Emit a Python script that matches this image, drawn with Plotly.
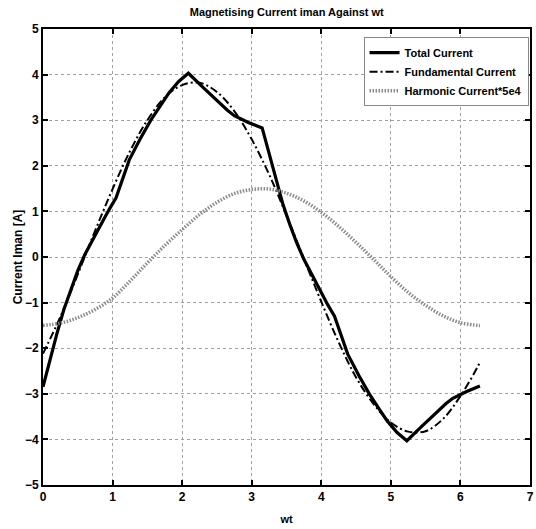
import plotly.graph_objects as go

# Total current
wt_total = [0, 0.1, 0.2, 0.3, 0.4, 0.5, 0.6, 0.7, 0.8, 0.95, 1.05, 1.24, 1.4, 1.55, 1.7, 1.81, 1.95, 2.09,
            2.3, 2.47, 2.65, 2.75, 2.95, 3.15, 3.25, 3.35, 3.45, 3.55, 3.65, 3.75, 3.85, 3.95, 4.09, 4.19,
            4.38, 4.54, 4.69, 4.84, 4.95, 5.09, 5.23, 5.44, 5.61, 5.79, 5.89, 6.09, 6.28]
i_total = [-2.85, -2.25, -1.68, -1.15, -0.7, -0.3, 0.05, 0.35, 0.62, 1.04, 1.3, 2.13, 2.6, 3.0, 3.35, 3.6, 3.85, 4.03,
           3.72, 3.47, 3.22, 3.1, 2.95, 2.83, 2.25, 1.68, 1.15, 0.7, 0.3, -0.05, -0.35, -0.62, -1.04, -1.3,
           -2.13, -2.6, -3.0, -3.35, -3.6, -3.85, -4.03, -3.72, -3.47, -3.22, -3.1, -2.95, -2.83]

# Fundamental current
wt_fund = [0, 0.25, 0.5, 0.75, 1.0, 1.25, 1.5, 1.75, 2.0, 2.25, 2.5, 2.75, 3.0, 3.25, 3.5, 3.75, 4.0,
           4.25, 4.5, 4.75, 5.0, 5.25, 5.5, 5.75, 6.0, 6.25, 6.28]
i_fund = [-2.12, -1.31, -0.38, 0.58, 1.49, 2.32, 3.0, 3.5, 3.77, 3.82, 3.62, 3.2, 2.58, 1.81, 0.91, -0.04, -0.98,
          -1.87, -2.64, -3.22, -3.63, -3.83, -3.82, -3.55, -3.05, -2.4, -2.3]

# Harmonic current * 5e4
wt_harm = [0, 0.25, 0.5, 0.75, 1.0, 1.25, 1.5, 1.75, 2.0, 2.25, 2.5, 2.75, 3.0, 3.25, 3.5, 3.75, 4.0,
           4.25, 4.5, 4.75, 5.0, 5.25, 5.5, 5.75, 6.0, 6.25, 6.28]
i_harm = [-1.5, -1.45, -1.33, -1.15, -0.9, -0.53, -0.13, 0.25, 0.6, 0.93, 1.2, 1.39, 1.48, 1.49, 1.4, 1.23, 0.98,
          0.67, 0.32, -0.05, -0.43, -0.78, -1.06, -1.29, -1.44, -1.5, -1.5]

x_ticks = [0, 1, 2, 3, 4, 5, 6, 7]
y_ticks = [-5, -4, -3, -2, -1, 0, 1, 2, 3, 4, 5]

FONT = "Liberation Sans"

fig = go.Figure()
fig.add_trace(go.Scatter(x=wt_total, y=i_total, mode="lines", name="Total Current",
                         line=dict(color="black", width=3.2)))
fig.add_trace(go.Scatter(x=wt_fund, y=i_fund, mode="lines", name="Fundamental Current",
                         line=dict(color="black", width=2, dash="8px,3px,2px,3px"), line_shape="spline"))
fig.add_trace(go.Scatter(x=wt_harm, y=i_harm, mode="lines", name="Harmonic Current*5e4",
                         line=dict(color="#8a8a8a", width=3.5, dash="1.5px,1.5px"), line_shape="spline"))

axis_common = dict(
    showline=True, linecolor="black", linewidth=2, mirror="ticks",
    ticks="inside", ticklen=5, tickwidth=1.5, tickcolor="black",
    showgrid=True, gridcolor="#a0a0a0", gridwidth=1, griddash="dot",
    zeroline=False,
    tickfont=dict(family=FONT, size=12, color="black", weight="bold"),
)

fig.update_layout(
    width=536, height=529,
    margin=dict(l=43, r=2, t=29, b=44),
    paper_bgcolor="white", plot_bgcolor="white",
    font=dict(family=FONT, color="black"),
    title=dict(text="Magnetising Current iman Against wt", x=0.535, xanchor="center", y=0.985, yanchor="top",
               font=dict(family=FONT, size=11, color="black", weight="bold")),
    xaxis=dict(range=[0, 7], tickvals=x_ticks, title=dict(text="wt", standoff=12,
               font=dict(family=FONT, size=11, weight="bold")), **axis_common),
    yaxis=dict(range=[-5, 5], tickvals=y_ticks, title=dict(text="Current Iman [A]", standoff=0,
               font=dict(family=FONT, size=12, weight="bold")), **axis_common),
    legend=dict(x=0.997, y=0.982, xanchor="right", yanchor="top", bgcolor="white",
                bordercolor="#888888", borderwidth=1, tracegroupgap=0,
                font=dict(family=FONT, size=11, color="black", weight="bold"),
                itemwidth=30),
    showlegend=True,
)

fig.write_html("out.html")
